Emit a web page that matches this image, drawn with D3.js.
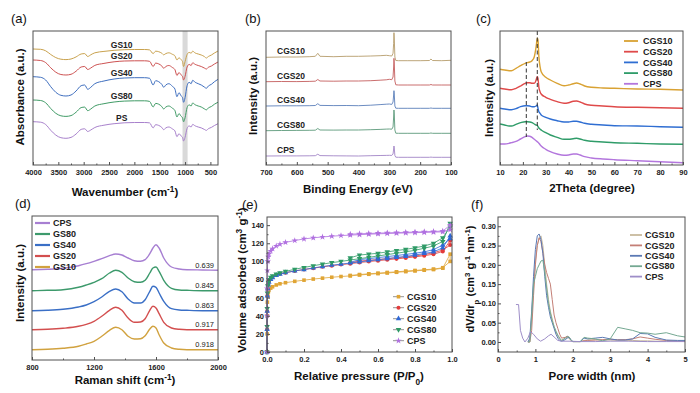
<!DOCTYPE html>
<html>
<head>
<meta charset="utf-8">
<script src="https://cdn.jsdelivr.net/npm/d3@7"></script>
<style>
  body { margin: 0; background: #fff; }
  text { font-family: "Liberation Sans", Arial, sans-serif; }
</style>
</head>
<body>
<svg id="fig" width="700" height="393"></svg>
<script>
// ---- (a) FTIR ----
var ftirNames = ["GS10", "GS20", "GS40", "GS80", "PS"];
var ftirWn = [4000, 3850, 3750, 3650, 3550, 3450, 3350, 3250, 3150, 3050, 2980, 2920, 2860, 2780, 2600, 2400,
  2200, 2000, 1800, 1700, 1630, 1580, 1520, 1460, 1420, 1380, 1320, 1250, 1200, 1160, 1120, 1080, 1050, 1030,
  1000, 960, 920, 880, 850, 800, 740, 680, 620, 580, 540, 480, 420, 350];
var ftirGS10 = [116, 115.7, 114.2, 110.5, 107.4, 105.8, 105.4, 106, 108.1, 111, 111.4, 108.5, 110.2, 112.2, 113.6,
  114.7, 115.3, 115.5, 115.5, 115.1, 111.4, 113.8, 113.3, 111.8, 110.2, 111.4, 112.2, 110.7, 109.2, 105, 107.2,
  105.5, 103.4, 98.5, 103.4, 110.5, 112.6, 111.8, 113.8, 112, 111, 110, 108.5, 107, 108.5, 110, 112, 114];
var ftirGS20 = [105, 104.5, 102.4, 97.2, 92.8, 90.5, 90, 90.7, 93.8, 98, 98.5, 95.5, 97, 99.6, 101.6, 103.2, 104,
  104.2, 104.2, 103.7, 98.5, 101.9, 101.1, 99.1, 96.7, 98.5, 99.5, 97.5, 95.4, 89.5, 92.5, 90.2, 88.6, 85, 88.6,
  98, 100.6, 99.5, 102.2, 100.6, 99.5, 98.5, 97, 96, 97.7, 99, 101, 103];
var ftirGS40 = [88.3, 87.7, 85, 78.3, 72.7, 69.7, 69, 70, 74, 79.3, 80, 75.7, 77.7, 81.3, 84, 86, 87, 87.3, 87.3,
  86.7, 80, 84.3, 83.3, 80.7, 77.7, 80, 81.3, 78.7, 76, 68.3, 72.3, 69.3, 67.3, 62.7, 67.3, 79.3, 82.7, 81.3, 84.7,
  82.7, 81.3, 80, 78, 76.7, 79, 80.7, 83.3, 85.7];
var ftirGS80 = [65, 64.5, 62.2, 56.5, 51.7, 49.2, 48.6, 49.4, 52.8, 57.4, 57.9, 54.3, 56, 59, 61.3, 63, 63.9, 64.2,
  64.2, 63.6, 58, 61.6, 60.8, 58.5, 56, 58, 59, 56.8, 54.5, 48, 51.4, 48.9, 47.2, 43.2, 47.2, 57.4, 60.2, 59, 62,
  60.2, 59, 58, 56.2, 55.1, 57.1, 58.5, 60.8, 62.8];
var ftirPS = [43.3, 42.8, 40.5, 34.7, 29.9, 27.3, 26.7, 27.6, 31, 35.6, 36.2, 33.5, 35, 37.5, 39.8, 41.3, 42.2, 42.5,
  42.5, 42.1, 37.1, 40.3, 39.6, 37.6, 35.3, 37.1, 38, 36.1, 34.1, 28.3, 31.3, 29.1, 27.6, 24, 27.6, 36.6, 39.1, 38,
  40.6, 39.1, 38, 37.1, 35.6, 34.6, 36.3, 37.6, 39.5, 41.3];
var ftirBand = [1050, 950];
var ftirTicks = [4000, 3500, 3000, 2500, 2000, 1500, 1000, 500];

// ---- (b) XPS ----
var xpsNames = ["CGS10", "CGS20", "CGS40", "CGS80", "CPS"];
var xpsBE = [700, 650, 600, 560, 540, 532, 525, 480, 440, 400, 360, 330, 310, 300, 292, 288, 286, 285, 284, 282,
  279, 270, 240, 200, 170, 165, 160, 130, 100];
var xpsCGS10 = [107.7, 108, 108, 108.3, 108.7, 111.7, 108.7, 108.3, 108.7, 108.7, 109, 109.3, 109.7, 109.3, 109,
  111.7, 121.7, 132.3, 127, 108, 104.5, 104.3, 104.3, 104.3, 104.5, 106, 104.5, 104.3, 104.7];
var xpsCGS20 = [83.3, 83.5, 83.4, 83.6, 83.8, 85.5, 84, 83.8, 84, 84, 84.3, 84.8, 85.2, 85.7, 85.3, 88, 98, 106.7,
  102, 84, 80.2, 80, 80, 80, 80, 80.5, 80, 80, 80];
var xpsCGS40 = [59, 59.2, 59.2, 59.3, 59.5, 61.3, 59.6, 59.4, 59.5, 59.3, 59.8, 60.4, 60.8, 61, 60.6, 63, 70, 74.3,
  71, 59, 56.8, 56.7, 56.7, 56.7, 56.7, 57, 56.7, 56.7, 56.7];
var xpsCGS80 = [34.3, 34.5, 34.6, 34.7, 34.8, 36.5, 35, 34.9, 35, 35, 35.3, 35.6, 35.9, 36, 35.8, 38, 48, 55, 51, 35,
  31.8, 31.7, 31.7, 31.7, 31.7, 32, 31.7, 31.7, 31.7];
var xpsCPS = [9, 9.1, 9.1, 9.2, 9.3, 10.8, 9.4, 9.2, 9.1, 9, 9.3, 9.5, 9.6, 9.7, 9.6, 11, 16, 19, 17, 9.5, 7.8, 7.7,
  7.7, 7.7, 7.7, 7.9, 7.7, 7.7, 7.7];
var xpsTicks = [700, 600, 500, 400, 300, 200, 100];

// ---- (c) XRD ----
var xrdNames = ["CGS10", "CGS20", "CGS40", "CGS80", "CPS"];
var xrdTheta = [10, 12, 14, 15, 17, 19, 21, 22, 23, 24, 25, 25.8, 26.3, 26.6, 27, 27.5, 28, 30, 32, 35, 38, 40, 42,
  43.5, 45, 47, 50, 55, 60, 70, 80, 90];
var xrdCGS10 = [95.7, 95, 94.3, 94.3, 96.7, 99.3, 101.7, 102.3, 103, 104.3, 108.3, 118.3, 126.7, 125, 108.3, 98.3,
  93.3, 87.7, 85, 81.7, 79.3, 80, 81.3, 82, 81, 79, 77.7, 77, 76.7, 76, 75.7, 75];
var xrdCGS20 = [76.7, 76, 75.3, 75.3, 76.7, 79, 81.7, 82.3, 82.3, 81.7, 81.7, 85, 88.3, 86.7, 77.7, 73.3, 71, 67.7,
  65.7, 63.3, 61.7, 62.3, 63.7, 64, 63, 61, 59.7, 59, 58.3, 57.7, 57.3, 56.7];
var xrdCGS40 = [56.7, 56, 55.3, 55.3, 56.3, 58.3, 59.3, 59.3, 59, 58.3, 58.3, 59, 60, 56.7, 53.3, 51.7, 50, 47.7, 46,
  44.3, 43, 43, 43.7, 43.7, 43, 41.7, 40.7, 40, 39.3, 39, 38.3, 37.7];
var xrdCGS80 = [41, 40, 39, 39, 40.7, 42.3, 43.3, 43.3, 43, 42.3, 41, 40, 39.7, 38.3, 37, 36, 35, 32.3, 30, 27.7,
  25.7, 25.7, 26.3, 26.7, 26, 24.7, 23.7, 23, 22.3, 21.7, 21, 20.7];
var xrdCPS = [21, 21, 21.7, 22.3, 23.7, 26, 28.3, 29, 28.7, 27.7, 25.7, 24.3, 23.3, 22.7, 21.7, 20.3, 19, 15.7, 13.3,
  11, 9.7, 10, 11, 11, 10, 8.3, 7, 6, 5.3, 4.3, 3.3, 2.3];
var xrdMarkTheta = [21.5, 26.3];
var xrdMarkTop = [103, 134];
var xrdMarkBottom = [28, 35];

// ---- (d) Raman ----
var ramanNames = ["CPS", "GS80", "GS40", "GS20", "GS10"];
var ramanRatio = ["0.639", "0.845", "0.863", "0.917", "0.918"];
var ramanShift = [800, 900, 1000, 1100, 1150, 1200, 1250, 1300, 1340, 1380, 1420, 1460, 1500, 1530, 1560, 1580,
  1600, 1620, 1650, 1700, 1750, 1800, 1900, 2000];
var ramanCPS = [90.3, 90.7, 91.7, 94.3, 96.3, 98.7, 101.3, 104.3, 106, 105, 102, 99.3, 98.7, 100.3, 106.3, 112,
  115.3, 112, 102, 93, 91, 90.3, 90, 89.7];
var ramanGS80 = [69.3, 69.7, 70.3, 72.7, 75, 77.7, 81.3, 87, 89.7, 87.7, 82, 78.3, 77.7, 79.7, 87, 92, 93, 88.7,
  79.7, 71.7, 70, 69.7, 69.3, 69.3];
var ramanGS40 = [49.3, 49.7, 50.7, 53, 55, 58.3, 63, 68.7, 71, 68.3, 61, 57, 57, 60.3, 68.7, 73.7, 72.7, 67, 58.7,
  51.3, 50, 49.7, 49.3, 49.3];
var ramanGS20 = [30.3, 30.7, 31.7, 33.7, 35.7, 38.7, 43.7, 49.7, 52.7, 49.7, 42, 37.7, 38, 41.3, 49.7, 53.7, 52,
  46.3, 37.7, 32, 30.7, 30.3, 30.3, 30.3];
var ramanGS10 = [10.3, 10.7, 11.7, 13.7, 16, 18.7, 23.7, 29.7, 32.7, 30.3, 23.7, 21, 21.3, 24.3, 31, 33.7, 32, 25.3,
  17, 12, 10.7, 10.3, 10.3, 10.3];
var ramanTicks = [800, 1200, 1600, 2000];

// ---- (e) N2 isotherms ----
var betNames = ["CGS10", "CGS20", "CGS40", "CGS80", "CPS"];
var betAdsP = [0, 0.0005, 0.001, 0.002, 0.004, 0.007, 0.01, 0.02, 0.03, 0.05, 0.07, 0.1, 0.15, 0.2, 0.25, 0.3,
  0.35, 0.4, 0.45, 0.5, 0.55, 0.6, 0.65, 0.7, 0.75, 0.8, 0.85, 0.9, 0.95, 0.99];
var betDesP = [0.99, 0.95, 0.9, 0.85, 0.8, 0.75, 0.7, 0.65, 0.6, 0.55, 0.5, 0.45];
var adsCGS10 = [0, 20, 40, 55, 62, 66, 68, 70.5, 72, 74, 75.3, 76.5, 78, 79.3, 80.5, 81.5, 82.5, 83.3, 84, 85, 85.8,
  86.5, 87.2, 88, 88.7, 89.5, 90.3, 91, 92.5, 108];
var desCGS10 = [100, 93, 91.5, 90.8, 90, 89.3, 88.5, 87.8, 87, 86.3, 85.5, 84.5];
var adsCGS20 = [0, 25, 45, 62, 70, 75, 78, 81, 83, 85, 86.3, 87.5, 89.5, 91, 92.5, 94, 95.3, 96.5, 97.5, 98.7, 99.8,
  100.8, 101.8, 102.8, 103.8, 105, 106.3, 108, 111, 123];
var desCGS20 = [118, 112.5, 109.5, 107.5, 106, 105, 104, 103, 102, 101.2, 100.3, 98.5];
var adsCGS40 = [0, 25, 45, 62, 70, 74, 77, 80, 82, 84.5, 86, 87.5, 89.5, 91, 92.8, 94.3, 95.7, 97, 98.2, 99.5, 100.7,
  101.8, 103, 104.3, 105.5, 107, 108.7, 110.5, 115, 128];
var desCGS40 = [125, 118, 113, 110.5, 109, 107.7, 106.5, 105.3, 104.2, 103, 102, 99];
var adsCGS80 = [0, 28, 48, 65, 73, 77, 80, 82.5, 84, 86, 87.5, 89, 91.3, 93.3, 95.2, 97, 98.6, 100, 101.5, 103,
  104.5, 106, 107.5, 109, 110.5, 112.3, 114.5, 117, 122, 142];
var desCGS80 = [138, 126, 120, 117, 115, 113.3, 112, 110.5, 109, 108, 107, 104];
var adsCPS = [0, 40, 70, 90, 100, 105, 108, 111.5, 114, 117, 119, 121, 123, 124.8, 126, 127, 127.8, 128.5, 129,
  129.5, 130, 130.4, 130.8, 131.1, 131.4, 131.7, 132, 132.3, 132.6, 135];
var desCPS = [140, 133.5, 133, 132.7, 132.4, 132.1, 131.8, 131.5, 131.2, 130.8, 130.5, 130];
var betXTicks = [0, 0.2, 0.4, 0.6, 0.8, 1.0];
var betYTicks = [0, 20, 40, 60, 80, 100, 120, 140];

// ---- (f) pore size distribution ----
var psdNames = ["CGS10", "CGS20", "CGS40", "CGS80", "CPS"];
var psdW = [0.8, 0.85, 0.9, 0.95, 1.0, 1.05, 1.1, 1.15, 1.2, 1.25, 1.3, 1.35, 1.4, 1.45, 1.5, 1.55, 1.6, 1.65, 1.7,
  1.8, 1.85, 1.9, 1.95, 2.0, 2.2, 2.3, 2.4, 2.6, 2.8, 3.0, 3.2, 3.4, 3.6, 3.8, 4.0, 4.2, 4.5, 4.8, 5.0];
var psdCGS10 = [0, 0, 0.06, 0.14, 0.21, 0.25, 0.27, 0.275, 0.25, 0.2, 0.15, 0.11, 0.08, 0.06, 0.04, 0.025, 0.015,
  0.008, 0.004, 0.01, 0.012, 0.01, 0.004, 0.001, 0.001, 0.004, 0.005, 0.006, 0.005, 0.005, 0.004, 0.004, 0.004,
  0.003, 0.003, 0.002, 0.002, 0.002, 0.002];
var psdCGS20 = [0, 0, 0.03, 0.12, 0.2, 0.25, 0.27, 0.26, 0.23, 0.2, 0.18, 0.165, 0.15, 0.11, 0.07, 0.05, 0.035,
  0.02, 0.01, 0.012, 0.015, 0.012, 0.004, 0.001, 0.001, 0.003, 0.004, 0.005, 0.006, 0.007, 0.006, 0.006, 0.008,
  0.013, 0.01, 0.007, 0.004, 0.002, 0.001];
var psdCGS40 = [0, 0.01, 0.08, 0.17, 0.24, 0.275, 0.28, 0.265, 0.23, 0.17, 0.12, 0.09, 0.065, 0.05, 0.035, 0.02,
  0.01, 0.004, 0.002, 0.006, 0.01, 0.012, 0.006, 0.001, 0.001, 0.01, 0.008, 0.01, 0.012, 0.008, 0.005, 0.005,
  0.008, 0.022, 0.021, 0.012, 0.005, 0.004, 0.004];
var psdCGS80 = [0, 0, 0.07, 0.15, 0.17, 0.19, 0.2, 0.21, 0.212, 0.18, 0.14, 0.1, 0.075, 0.055, 0.04, 0.028, 0.018,
  0.01, 0.004, 0.01, 0.014, 0.013, 0.005, 0.001, 0.001, 0.012, 0.01, 0.008, 0.003, 0.008, 0.038, 0.034, 0.03,
  0.024, 0.023, 0.02, 0.024, 0.016, 0.013];
var psdCpsW = [0.48, 0.55, 0.6, 0.66, 0.72, 0.8, 0.87, 0.95, 1.05, 1.14, 1.25, 1.35, 1.42, 1.5, 1.6, 1.7, 1.9, 2.2,
  2.6, 3.0, 3.5, 4.0, 4.5, 5.0];
var psdCPS = [0.097, 0.097, 0.03, 0.01, 0, 0.01, 0.027, 0.02, 0.008, 0.002, 0.008, 0.016, 0.02, 0.013, 0.004, 0.002,
  0.002, 0.001, 0.001, 0.002, 0.002, 0.001, 0.001, 0.001];
var psdXTicks = [0, 1, 2, 3, 4, 5];
var psdYTicks = [0, 0.05, 0.1, 0.15, 0.2, 0.25, 0.3];

// ---------------------------------------------------------------
var svg = d3.select("#fig");
var AXIS = "#505050";

function panel(box, xDom, yDom) {
  var p = {box: box};
  p.x = d3.scaleLinear().domain(xDom).range([box.x0, box.x1]);
  p.y = d3.scaleLinear().domain(yDom).range([box.y1, box.y0]);
  p.g = svg.append("g");
  return p;
}

function frame(p) {
  p.g.append("rect")
    .attr("x", p.box.x0).attr("y", p.box.y0)
    .attr("width", p.box.x1 - p.box.x0).attr("height", p.box.y1 - p.box.y0)
    .attr("fill", "none").attr("stroke", AXIS).attr("stroke-width", 1);
}

function styleAxis(g) {
  g.select(".domain").remove();
  g.selectAll("line").attr("stroke", AXIS);
  g.selectAll("text").attr("font-size", 7.5).attr("font-weight", "bold").attr("fill", "#222")
    .attr("font-family", '"Liberation Sans", Arial, sans-serif');
}

function xAxis(p, major, fmt) {
  var minor = [];
  for (var i = 0; i < major.length - 1; i++) minor.push((major[i] + major[i + 1]) / 2);
  var g1 = p.g.append("g").attr("transform", "translate(0," + p.box.y1 + ")")
    .call(d3.axisBottom(p.x).tickValues(minor).tickSize(-1.5).tickFormat(""));
  var g2 = p.g.append("g").attr("transform", "translate(0," + p.box.y1 + ")")
    .call(d3.axisBottom(p.x).tickValues(major).tickSize(-3).tickPadding(4.5).tickFormat(fmt));
  styleAxis(g1); styleAxis(g2);
}

function yAxis(p, major, fmt, pad) {
  var minor = [];
  for (var i = 0; i < major.length - 1; i++) minor.push((major[i] + major[i + 1]) / 2);
  var g1 = p.g.append("g").attr("transform", "translate(" + p.box.x0 + ",0)")
    .call(d3.axisLeft(p.y).tickValues(minor).tickSize(-1.5).tickFormat(""));
  var g2 = p.g.append("g").attr("transform", "translate(" + p.box.x0 + ",0)")
    .call(d3.axisLeft(p.y).tickValues(major).tickSize(-3).tickPadding(pad).tickFormat(fmt));
  styleAxis(g1); styleAxis(g2);
}

function curve(p, xs, ys, color, w, kind) {
  var line = d3.line()
    .x(function(d, i) { return p.x(xs[i]); })
    .y(function(d) { return p.y(d); })
    .curve(kind || d3.curveLinear);
  p.g.append("path").datum(ys).attr("d", line)
    .attr("fill", "none").attr("stroke", color).attr("stroke-width", w)
    .attr("stroke-linejoin", "round");
}

function title(x, y, parts, rotate, size) {
  size = size || 11.5;
  var t = svg.append("text").attr("text-anchor", "middle").attr("font-weight", "bold")
    .attr("font-size", size).attr("fill", "#111");
  if (rotate) t.attr("transform", "translate(" + x + "," + y + ") rotate(-90)");
  else t.attr("x", x).attr("y", y);
  parts.forEach(function(pt) {
    var s = t.append("tspan").text(pt[0]);
    if (pt[1]) s.attr("baseline-shift", pt[1]).attr("font-size", size * 0.72);
  });
}

function tag(x, y, s) {
  svg.append("text").attr("x", x).attr("y", y).attr("font-size", 13).attr("fill", "#111").text(s);
}

function legendText(x, y, s) {
  svg.append("text").attr("x", x).attr("y", y + 3.2).attr("font-size", 9).attr("font-weight", "bold")
    .attr("fill", "#222").text(s);
}

// ===== (a) =====
var colA = ["#c9a24e", "#cd5252", "#3f6fbf", "#409b66", "#a881cc"];
var pa = panel({x0: 33, x1: 218, y0: 31, y1: 165}, [4000, 350], [0, 134]);
pa.g.append("rect").attr("x", pa.x(ftirBand[0])).attr("y", pa.box.y0)
  .attr("width", pa.x(ftirBand[1]) - pa.x(ftirBand[0])).attr("height", pa.box.y1 - pa.box.y0)
  .attr("fill", "#d9d9d9");
[ftirGS10, ftirGS20, ftirGS40, ftirGS80, ftirPS].forEach(function(s, i) {
  curve(pa, ftirWn, s, colA[i], 1, d3.curveMonotoneX);
  var k = ftirWn.indexOf(2200);
  svg.append("text").attr("x", pa.x(2250)).attr("y", pa.y(s[k]) - 2)
    .attr("text-anchor", "middle").attr("font-size", 8.5).attr("font-weight", "bold").attr("fill", "#222")
    .text(ftirNames[i]);
});
frame(pa);
xAxis(pa, ftirTicks, d3.format("d"));
title(125, 196, [["Wavenumber (cm"], ["-1", "super"], [")"]]);
title(24, 97, [["Absorbance (a.u.)"]], true);
tag(11, 23, "(a)");

// ===== (b) =====
var colB = ["#b59c6b", "#c45e5e", "#5b7fba", "#5c9a7a", "#a184c6"];
var pb = panel({x0: 266, x1: 451, y0: 31, y1: 165}, [700, 100], [0, 134]);
[xpsCGS10, xpsCGS20, xpsCGS40, xpsCGS80, xpsCPS].forEach(function(s, i) {
  curve(pb, xpsBE, s, colB[i], 0.9);
  svg.append("text").attr("x", 277).attr("y", pb.y(s[0]) - 3)
    .attr("font-size", 8.5).attr("font-weight", "bold").attr("fill", "#222").text(xpsNames[i]);
});
frame(pb);
xAxis(pb, xpsTicks, d3.format("d"));
title(358, 193, [["Binding Energy (eV)"]]);
title(257, 96, [["Intensity (a.u.)"]], true);
tag(245, 23, "(b)");

// ===== (c) =====
var colC = ["#d9a233", "#df4a4a", "#2f6ed2", "#2f9c69", "#b376dd"];
var pc = panel({x0: 500, x1: 683, y0: 31, y1: 165}, [10, 90], [0, 134]);
[xrdCGS10, xrdCGS20, xrdCGS40, xrdCGS80, xrdCPS].forEach(function(s, i) {
  curve(pc, xrdTheta, s, colC[i], 1.4, d3.curveMonotoneX);
});
xrdMarkTheta.forEach(function(t, i) {
  pc.g.append("line").attr("x1", pc.x(t)).attr("x2", pc.x(t))
    .attr("y1", pc.y(xrdMarkTop[i])).attr("y2", pc.y(xrdMarkBottom[i]))
    .attr("stroke", "#333").attr("stroke-width", 1).attr("stroke-dasharray", "4,2.5");
});
xrdNames.forEach(function(n, i) {
  var y = 41 + i * 10.7;
  svg.append("line").attr("x1", 624).attr("x2", 638).attr("y1", y).attr("y2", y)
    .attr("stroke", colC[i]).attr("stroke-width", 1.8);
  legendText(643, y, n);
});
frame(pc);
xAxis(pc, d3.range(10, 91, 10), d3.format("d"));
title(592, 192, [["2Theta (degree)"]]);
title(493, 98, [["Intensity (a.u.)"]], true);
tag(476, 23, "(c)");

// ===== (d) =====
var colD = ["#a77fd2", "#3d9a6c", "#3a6fc6", "#d34f4f", "#d1a23f"];
var pd = panel({x0: 32, x1: 218, y0: 216, y1: 360}, [800, 2000], [0, 144]);
[ramanCPS, ramanGS80, ramanGS40, ramanGS20, ramanGS10].forEach(function(s, i) {
  curve(pd, ramanShift, s, colD[i], 1.4, d3.curveMonotoneX);
  svg.append("text").attr("x", pd.x(2000) - 4).attr("y", pd.y(s[s.length - 1]) - 2.5)
    .attr("text-anchor", "end").attr("font-size", 7.5).attr("fill", "#222").text(ramanRatio[i]);
});
ramanNames.forEach(function(n, i) {
  var y = 223 + i * 11;
  svg.append("line").attr("x1", 35).attr("x2", 50).attr("y1", y).attr("y2", y)
    .attr("stroke", colD[i]).attr("stroke-width", 2.2);
  legendText(53, y, n);
});
frame(pd);
xAxis(pd, ramanTicks, d3.format("d"));
title(125, 384, [["Raman shift (cm"], ["-1", "super"], [")"]]);
title(24, 283, [["Intensity (a.u.)"]], true);
tag(15, 208, "(d)");

// ===== (e) =====
var colE = ["#e0a535", "#e23b3b", "#2f68d6", "#2e9a66", "#b070e0"];
var symE = [d3.symbolSquare, d3.symbolCircle, d3.symbolTriangle, d3.symbolTriangle, d3.symbolStar];
var rotE = [0, 0, 0, 180, 0];
var pe = panel({x0: 267, x1: 452, y0: 217, y1: 352}, [0, 1], [0, 149]);
var betP = betAdsP.concat(betDesP);
[[adsCGS10, desCGS10], [adsCGS20, desCGS20], [adsCGS40, desCGS40], [adsCGS80, desCGS80], [adsCPS, desCPS]]
  .forEach(function(pair, i) {
    var vals = pair[0].concat(pair[1]);
    curve(pe, betP, vals, colE[i], 0.8);
    pe.g.selectAll(null).data(vals).enter().append("path")
      .attr("d", d3.symbol().type(symE[i]).size(13))
      .attr("transform", function(d, j) {
        return "translate(" + pe.x(betP[j]) + "," + pe.y(d) + ") rotate(" + rotE[i] + ")";
      })
      .attr("fill", colE[i]);
  });
betNames.forEach(function(n, i) {
  var y = 296.7 + i * 11;
  svg.append("line").attr("x1", 393).attr("x2", 404).attr("y1", y).attr("y2", y)
    .attr("stroke", "#777").attr("stroke-width", 0.8);
  svg.append("path").attr("d", d3.symbol().type(symE[i]).size(13)())
    .attr("transform", "translate(398.5," + y + ") rotate(" + rotE[i] + ")").attr("fill", colE[i]);
  legendText(407, y, n);
});
frame(pe);
xAxis(pe, betXTicks, d3.format(".1f"));
yAxis(pe, betYTicks, d3.format("d"), 3);
title(359, 380, [["Relative pressure (P/P"], ["0", "sub"], [")"]]);
title(246, 280, [["Volume adsorbed (cm"], ["3", "super"], [" g"], ["-1", "super"], [")"]], true);
tag(242, 209, "(e)");

// ===== (f) =====
var colF = ["#c8b99c", "#c47f76", "#5b79b4", "#74a892", "#9e8ec8"];
var pf = panel({x0: 498, x1: 685, y0: 217, y1: 352}, [0, 5], [-0.026, 0.324]);
[psdCGS10, psdCGS20, psdCGS40, psdCGS80].forEach(function(s, i) {
  curve(pf, psdW, s, colF[i], 1);
});
curve(pf, psdCpsW, psdCPS, colF[4], 1);
psdNames.forEach(function(n, i) {
  var y = 235 + i * 10.4;
  svg.append("line").attr("x1", 630).attr("x2", 642).attr("y1", y).attr("y2", y)
    .attr("stroke", colF[i]).attr("stroke-width", 1.8);
  legendText(645, y, n);
});
frame(pf);
xAxis(pf, psdXTicks, d3.format("d"));
yAxis(pf, psdYTicks, d3.format(".2f"), 2);
title(592, 380, [["Pore width (nm)"]]);
title(474, 279, [["dV/dr"], ["p", "sub"], [" (cm"], ["3", "super"], [" g"], ["-1", "super"], [" nm"], ["-1", "super"], [")"]], true, 11);
tag(471, 209, "(f)");
</script>
</body>
</html>
